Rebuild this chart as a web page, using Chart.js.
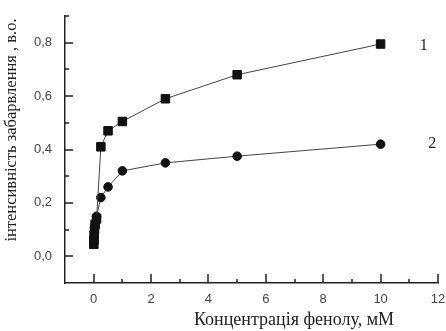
<!DOCTYPE html>
<html lang="uk">
<head>
    <meta charset="UTF-8">
    <title>Інтенсивність забарвлення</title>
    <script src="https://cdn.jsdelivr.net/npm/chart.js@4.4.1/dist/chart.umd.min.js"></script>
    <style>
        body { margin: 0; background: #fff; }
        #wrap { width: 446px; height: 331px; }
    </style>
</head>
<body>
<div id="wrap"><canvas id="phenolChart"></canvas></div>
<script>
    // concentration of phenol, mM
    const conc1 = [0.005, 0.01, 0.02, 0.03, 0.05, 0.1, 0.25, 0.5, 1, 2.5, 5, 10];
    const curve1 = [0.045, 0.06, 0.08, 0.10, 0.12, 0.14, 0.41, 0.47, 0.505, 0.59, 0.68, 0.795];
    const conc2 = [0.005, 0.01, 0.02, 0.03, 0.05, 0.1, 0.25, 0.5, 1, 2.5, 5, 10];
    const curve2 = [0.06, 0.075, 0.09, 0.105, 0.12, 0.15, 0.22, 0.26, 0.32, 0.35, 0.375, 0.42];
    const xTicks = [0, 2, 4, 6, 8, 10, 12];
    const yTicks = [0.0, 0.2, 0.4, 0.6, 0.8];
    const curveLabels = ['1', '2'];
    const curveLabelPos = [[11.5, 0.79], [11.8, 0.42]];

    const pts = (xs, ys) => xs.map((x, i) => ({ x: x, y: ys[i] }));

    // inward ticks (major + minor), curve numbers and axis titles
    const extras = {
        id: 'extras',
        afterDraw(chart) {
            const ctx = chart.ctx;
            const xs = chart.scales.x, ys = chart.scales.y;
            const area = chart.chartArea;
            ctx.save();
            ctx.fillStyle = '#222';
            for (let v = 0; v <= 12; v++) {
                const px = Math.round(xs.getPixelForValue(v));
                const len = (v % 2 === 0) ? 9 : 4;
                ctx.fillRect(px - 0.75, area.bottom - len, 1.5, len);
            }
            for (let k = 0; k <= 9; k++) {
                const py = Math.round(ys.getPixelForValue(k / 10));
                const len = (k % 2 === 0) ? 8 : 4;
                ctx.fillRect(area.left, py - 0.75, len, 1.5);
            }

            ctx.font = '16px "Liberation Serif"';
            ctx.textAlign = 'center';
            ctx.textBaseline = 'middle';
            curveLabels.forEach((t, i) => {
                ctx.fillText(t, xs.getPixelForValue(curveLabelPos[i][0]), ys.getPixelForValue(curveLabelPos[i][1]));
            });

            ctx.font = '18px "Liberation Serif"';
            ctx.fillText('Концентрація фенолу, мМ', 294, 320);

            ctx.font = '16.5px "Liberation Serif"';
            ctx.translate(12, 130);
            ctx.rotate(-Math.PI / 2);
            ctx.fillText('інтенсивність забарвлення , в.о.', 0, 0);
            ctx.restore();
        }
    };

    new Chart(document.getElementById('phenolChart'), {
        type: 'scatter',
        data: {
            datasets: [{
                label: '1',
                data: pts(conc1, curve1),
                showLine: true,
                borderColor: '#444',
                borderWidth: 1,
                pointStyle: 'rect',
                pointRadius: 6,
                pointBackgroundColor: '#111',
                pointBorderColor: '#111'
            }, {
                label: '2',
                data: pts(conc2, curve2),
                showLine: true,
                borderColor: '#444',
                borderWidth: 1,
                pointStyle: 'circle',
                pointRadius: 4.3,
                pointBackgroundColor: '#111',
                pointBorderColor: '#111'
            }]
        },
        options: {
            responsive: true,
            maintainAspectRatio: false,
            animation: false,
            layout: { padding: { top: 16, right: 8, left: 0, bottom: 0 } },
            plugins: { legend: { display: false }, tooltip: { enabled: false } },
            scales: {
                x: {
                    type: 'linear',
                    min: -1,
                    max: 12,
                    afterBuildTicks: s => { s.ticks = xTicks.map(v => ({ value: v })); },
                    afterFit: s => { s.height = 48; s.paddingLeft = 0; s.paddingRight = 0; },
                    grid: { display: false, drawTicks: false },
                    border: { display: true, color: '#222', width: 1.5 },
                    ticks: {
                        color: '#444',
                        padding: 9,
                        font: { family: '"Liberation Sans", Arial', size: 13 },
                        callback: v => String(v)
                    }
                },
                y: {
                    type: 'linear',
                    min: -0.1,
                    max: 0.9,
                    afterBuildTicks: s => { s.ticks = yTicks.map(v => ({ value: v })); },
                    afterFit: s => { s.width = 65; s.paddingTop = 0; s.paddingBottom = 0; },
                    grid: { display: false, drawTicks: false },
                    border: { display: true, color: '#222', width: 1.5 },
                    ticks: {
                        color: '#444',
                        padding: 13,
                        font: { family: '"Liberation Sans", Arial', size: 13 },
                        callback: v => v.toFixed(1).replace('.', ',')
                    }
                }
            }
        },
        plugins: [extras]
    });
</script>
</body>
</html>
